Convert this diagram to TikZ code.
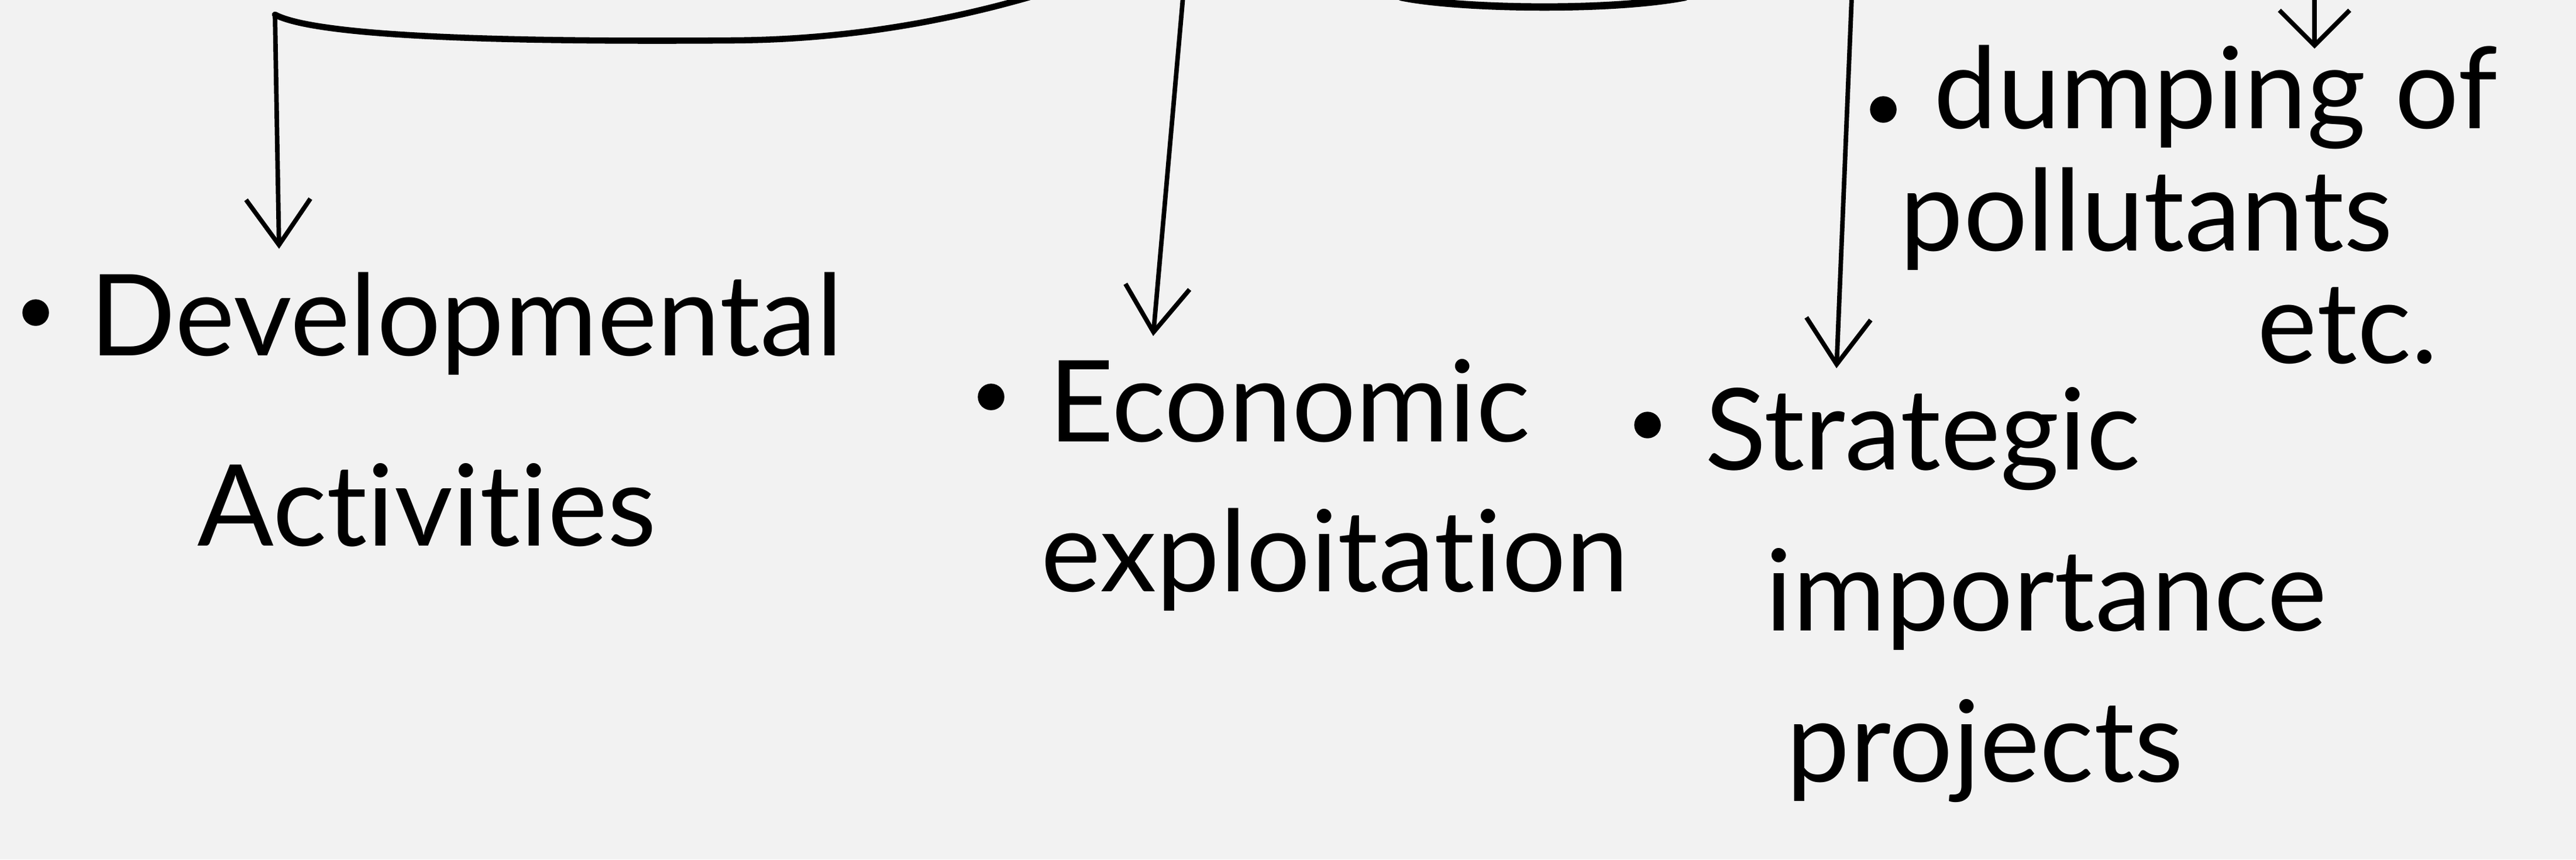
\documentclass[tikz,border=0pt]{standalone}
\usepackage{fontspec}
\setmainfont{Lato}[Ligatures=NoCommon]
\usetikzlibrary{arrows.meta}
\definecolor{paper}{HTML}{F2F2F2}

\begin{document}
\begin{tikzpicture}[x=1cm, y=1cm,
    every node/.style={inner sep=0pt, anchor=base west, font=\fontsize{55}{62}\selectfont},
    pen/.style={line width=2.2pt, line cap=round, -{Straight Barb[length=0.78cm, width=1.1cm]}},
    brace/.style={line width=3pt, line cap=round}]

        % Sheet and bounding box
        \fill[paper] (0,0) rectangle (44.03,-14.68);
        \useasboundingbox (0,0) rectangle (44.03,-14.68);

        % Free ends of the connectors
        \coordinate (topL) at (17.6,0.05);
        \coordinate (hookL) at (4.70,-0.25);
        \coordinate (devtip) at (4.77,-4.25);
        \coordinate (topE) at (20.22,0.05);
        \coordinate (ecotip) at (19.71,-5.74);
        \coordinate (topS) at (31.65,0.05);
        \coordinate (strtip) at (31.39,-6.29);
        \coordinate (topD) at (39.56,0.05);
        \coordinate (dumtip) at (39.56,-0.83);
        \coordinate (midA) at (23.95,0.05);
        \coordinate (midB) at (28.8,0.05);

        % Draw the brackets and arrows
        \draw[brace] (topL) .. controls (16.2,-0.35) and (14.5,-0.68) .. (12.5,-0.69) .. controls (8.5,-0.72) and (5.4,-0.62) .. (hookL);
        \draw[pen] (hookL) -- (devtip);
        \draw[pen] (topE) -- (ecotip);
        \draw[brace, line width=3.6pt] (midA) .. controls (24.9,-0.15) and (27.5,-0.2) .. (midB);
        \draw[pen] (topS) -- (strtip);
        \draw[pen, -{Straight Barb[length=0.6cm, width=1.2cm]}] (topD) -- (dumtip);

        % Create the items and the dots for them
        \draw[fill] (0.61,-5.34) circle (0.22);
        \node (dev) at (1.53,-6.07) {Developmental};
        \node (act) at (3.37,-9.32) {Activities};

        \draw[fill] (16.94,-6.78) circle (0.22);
        \node (eco) at (17.92,-7.54) {Economic};
        \node (expl) at (17.79,-10.10) {exploitation};

        \draw[fill] (28.16,-7.26) circle (0.22);
        \node (str) at (29.14,-8.02) {Strategic};
        \node (imp) at (30.17,-10.77) {importance};
        \node (proj) at (30.53,-13.35) {projects};

        \draw[fill] (32.19,-1.87) circle (0.22);
        \node (dump) at (33.05,-2.19) {dumping of};
        \node (poll) at (32.47,-4.28) {pollutants};
        \node (etc) at (38.58,-6.20) {etc.};

    \end{tikzpicture}
\end{document}
